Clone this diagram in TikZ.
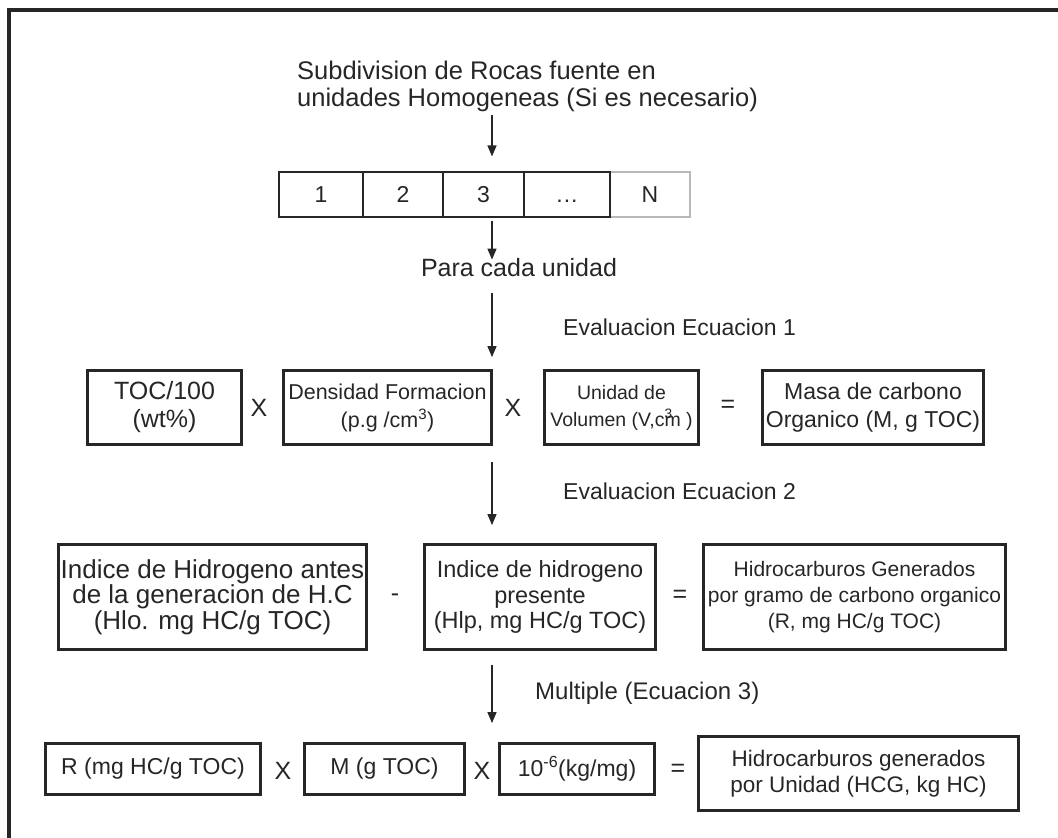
\documentclass[tikz,border=0pt]{standalone}
\usepackage{fontspec}
\setmainfont{Liberation Sans}
\usetikzlibrary{arrows.meta}
\definecolor{ink}{HTML}{262626}
\begin{document}
\begin{tikzpicture}[x=1pt,y=-1pt,
  every node/.style={text=ink, inner sep=0pt},
  box/.style={draw=ink, line width=2.8pt, align=center},
  cell/.style={draw=ink, line width=1.1pt, minimum height=45pt, text height=16.5pt, text depth=0pt, font=\fontsize{23}{27}\selectfont},
  op/.style={font=\fontsize{25}{30}\selectfont},
  arr/.style={draw=ink, line width=1.4pt, -{Triangle[length=11pt,width=9pt]}},
  lbl/.style={font=\fontsize{23}{27}\selectfont},
  ]
\useasboundingbox (0,0) rectangle (1058,838);
% frame
\draw[line width=3.5pt, draw=ink] (9,860) -- (9,10) -- (1080,10);
\coordinate (ax) at (492,0);

% title
\node[anchor=west, align=left, font=\fontsize{25.5}{27}\selectfont] (title) at (297,86.5)
  {Subdivision de Rocas fuente en\\unidades Homogeneas (Si es necesario)};

% units row
\node[cell, draw=gray!55, minimum width=80pt] (cell5) at (650,194.5) {N};
\node[cell, minimum width=84pt] (cell1) at (321,194.5) {1};
\node[cell, minimum width=80pt] (cell2) at (403,194.5) {2};
\node[cell, minimum width=81pt] (cell3) at (483.5,194.5) {3};
\node[cell, minimum width=86pt] (cell4) at (567,194.5) {.\kern1pt.\kern1pt.};

\node[font=\fontsize{25}{27}\selectfont] (para) at (519,268) {Para cada unidad};

% row 1
\node[lbl, anchor=west] (ev1) at (563,327) {Evaluacion Ecuacion 1};
\node[box, minimum width=154pt, minimum height=74pt, font=\fontsize{25}{28}\selectfont] (toc) at (164.5,407.5) {TOC/100\\(wt\%)};
\node[box, minimum width=208pt, minimum height=74pt, font=\fontsize{21.5}{28}\selectfont] (dens) at (387.5,407.5) {Densidad Formacion\\(p.g /cm\textsuperscript{3})};
\node[box, minimum width=154pt, minimum height=74pt, font=\fontsize{19.5}{27}\selectfont] (unid) at (621.5,407.5) {Unidad de\\Volumen (V,c\rlap{\textsuperscript{3}}m )};
\node[box, minimum width=221pt, minimum height=74pt, font=\fontsize{23}{28}\selectfont] (masa) at (873,407.5) {Masa de carbono\\Organico (M, g TOC)};
\node[op] (x1) at (259,408) {X};
\node[op] (x2) at (513,408) {X};
\node[op] (eq1) at (728,406) {=};

% row 2
\node[lbl, anchor=west] (ev2) at (563,491) {Evaluacion Ecuacion 2};
\node[box, minimum width=308pt, minimum height=105pt, font=\fontsize{26}{25.5}\selectfont] (hio) at (212.5,597) {Indice de Hidrogeno antes\\de la generacion de H.C\\(Hlo. mg HC/g TOC)};
\node[box, minimum width=231pt, minimum height=105pt, font=\fontsize{23.5}{25.5}\selectfont] (hip) at (540,597) {Indice de hidrogeno\\presente\\(Hlp, mg HC/g TOC)};
\node[box, minimum width=302pt, minimum height=105pt, font=\fontsize{21}{26}\selectfont] (rr) at (854.5,597) {Hidrocarburos Generados\\por gramo de carbono organico\\(R, mg HC/g TOC)};
\node[op] (mn) at (395,598) {-};
\node[op] (eq2) at (680,596) {=};

% row 3
\node[font=\fontsize{24}{27}\selectfont, anchor=west] (mult) at (535,693) {Multiple (Ecuacion 3)};
\node[box, minimum width=215pt, minimum height=51pt, font=\fontsize{23}{27}\selectfont] (rb) at (153,769) {R (mg HC/g TOC)};
\node[box, minimum width=160pt, minimum height=51pt, font=\fontsize{23}{27}\selectfont] (mb) at (384.5,769) {M (g TOC)};
\node[box, minimum width=155pt, minimum height=51pt, font=\fontsize{23}{27}\selectfont] (pb) at (577,769) {10\textsuperscript{-6}(kg/mg)};
\node[box, minimum width=320pt, minimum height=74pt, font=\fontsize{22.5}{26}\selectfont] (hcg) at (858.5,773.5) {Hidrocarburos generados\\por Unidad (HCG, kg HC)};
\node[op] (x3) at (283,771) {X};
\node[op] (x4) at (482,771) {X};
\node[op] (eq3) at (678,770) {=};

% arrows
\draw[arr, shorten <=3pt, shorten >=15pt] (title.south -| ax) -- (cell3.north -| ax);
\draw[arr, shorten <=3pt, shorten >=-1pt] (cell3.south -| ax) -- (para.north -| ax);
\draw[arr, shorten <=16pt, shorten >=12pt] (para.south -| ax) -- (dens.north -| ax);
\draw[arr, shorten <=16pt, shorten >=18pt] (dens.south -| ax) -- (hip.north -| ax);
\draw[arr, shorten <=14pt, shorten >=19pt] (hip.south -| ax) -- (pb.north -| ax);
\end{tikzpicture}
\end{document}
